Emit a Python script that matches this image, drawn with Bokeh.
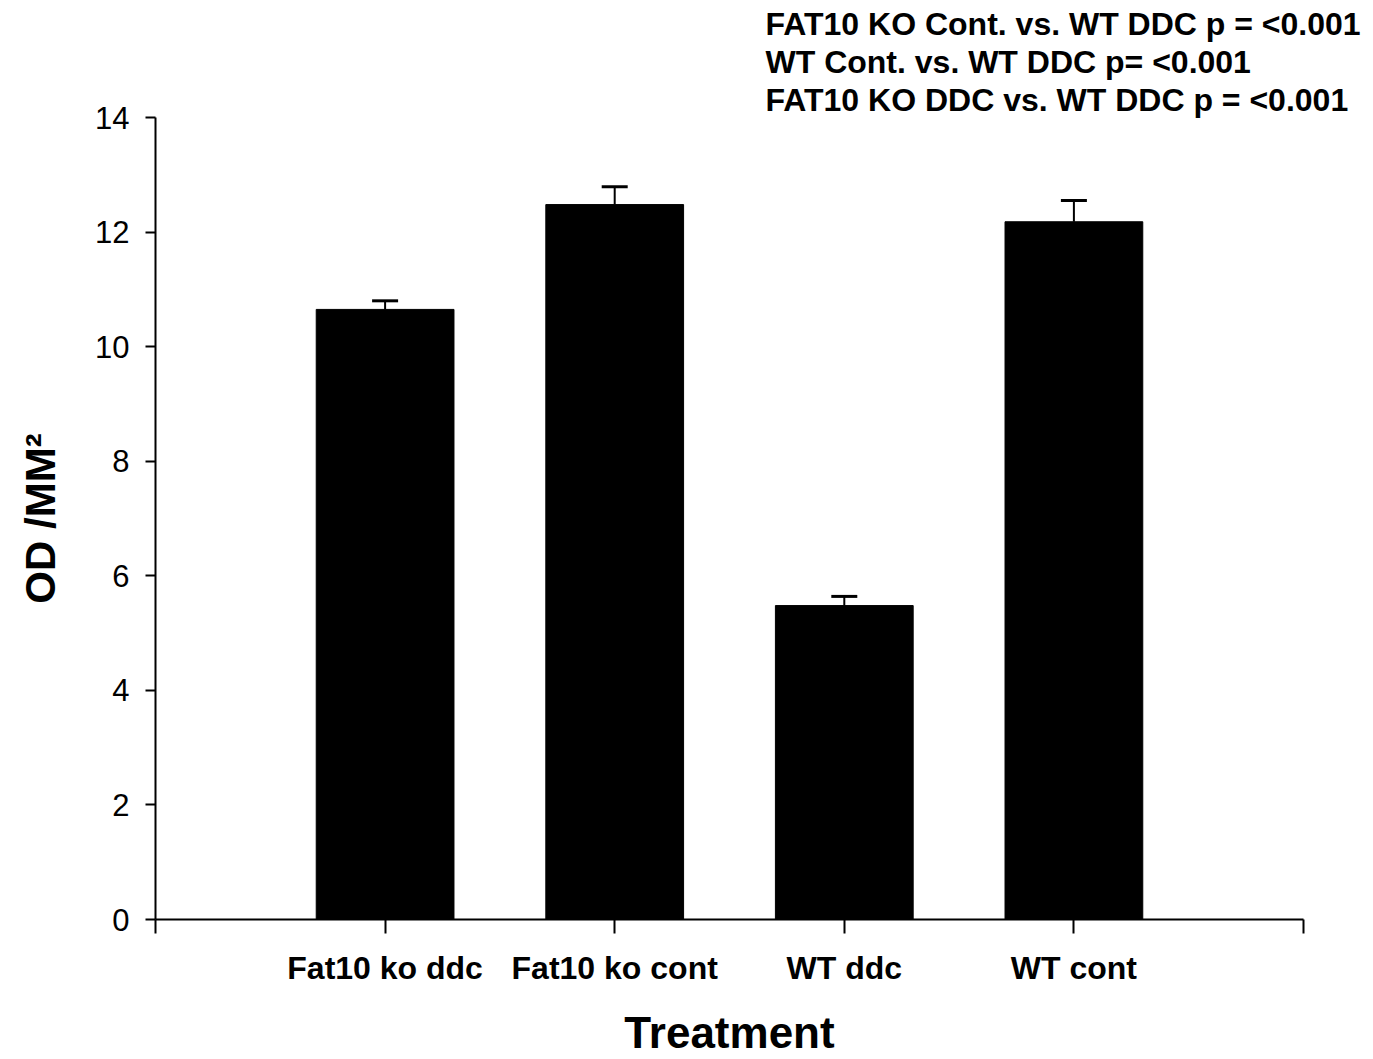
from bokeh.plotting import figure
from bokeh.models import FixedTicker, Whisker, TeeHead, ColumnDataSource, Title, Range1d
from bokeh.embed import file_html
from bokeh.resources import INLINE

categories = ["Fat10 ko ddc", "Fat10 ko cont", "WT ddc", "WT cont"]
means = [10.65, 12.48, 5.48, 12.18]
errors = [0.15, 0.31, 0.16, 0.37]
y_ticks = [0, 2, 4, 6, 8, 10, 12, 14]
annotations = [
    "FAT10 KO Cont. vs. WT DDC p = <0.001",
    "WT Cont. vs. WT DDC p= <0.001",
    "FAT10 KO DDC vs. WT DDC p = <0.001",
]

positions = list(range(1, len(categories) + 1))
upper = [m + e for m, e in zip(means, errors)]
src = ColumnDataSource(dict(x=positions, top=means, upper=upper, cat=categories))

FONT = "Liberation Sans"

p = figure(width=1373, height=1059, output_backend="svg", toolbar_location=None,
           x_range=Range1d(0, len(categories) + 1), y_range=Range1d(0, 14),
           min_border_left=155, min_border_right=70, min_border_top=117, min_border_bottom=140)
p.outline_line_color = None
p.xgrid.visible = False
p.ygrid.visible = False
p.background_fill_color = "white"
p.border_fill_color = "white"

p.vbar(x="x", top="top", bottom=0, width=0.6, source=src, fill_color="black", line_color="black")

w = Whisker(base="x", lower="top", upper="upper", source=src, dimension="height",
            line_color="black", line_width=2, lower_head=None,
            upper_head=TeeHead(size=26, line_color="black", line_width=3))
p.add_layout(w)

# axes
xa = p.xaxis[0]
xa.ticker = FixedTicker(ticks=[0] + positions + [len(categories) + 1])
overrides = {0: "", len(categories) + 1: ""}
for pos, c in zip(positions, categories):
    overrides[pos] = c
xa.major_label_overrides = overrides
xa.minor_tick_line_color = None
xa.major_tick_in = 0
xa.major_tick_out = 14
xa.major_tick_line_width = 2
xa.axis_line_width = 2
xa.axis_line_color = "black"
xa.major_tick_line_color = "black"
xa.major_label_text_font = FONT
xa.major_label_text_font_style = "bold"
xa.major_label_text_font_size = "32px"
xa.major_label_text_color = "black"
xa.major_label_standoff = 16
xa.axis_label = "Treatment"
xa.axis_label_text_font = FONT
xa.axis_label_text_font_style = "bold"
xa.axis_label_text_font_size = "44px"
xa.axis_label_text_color = "black"
xa.axis_label_standoff = 19

ya = p.yaxis[0]
ya.ticker = FixedTicker(ticks=y_ticks)
ya.minor_tick_line_color = None
ya.major_tick_in = 0
ya.major_tick_out = 10
ya.major_tick_line_width = 2
ya.axis_line_width = 2
ya.axis_line_color = "black"
ya.major_tick_line_color = "black"
ya.major_label_text_font = FONT
ya.major_label_text_font_size = "31px"
ya.major_label_text_color = "black"
ya.major_label_standoff = 16
ya.axis_label = "OD /MM\u00b2"
ya.axis_label_text_font = FONT
ya.axis_label_text_font_style = "bold"
ya.axis_label_text_font_size = "42px"
ya.axis_label_text_color = "black"
ya.axis_label_standoff = 28

# stacked above the frame: the last line is nearest the frame
for t in reversed(annotations):
    p.add_layout(Title(text=t, align="left", offset=610, text_font=FONT,
                       text_font_style="bold", text_font_size="32px",
                       text_color="black", standoff=0), "above")

open("out.html", "w").write(file_html(p, INLINE))
